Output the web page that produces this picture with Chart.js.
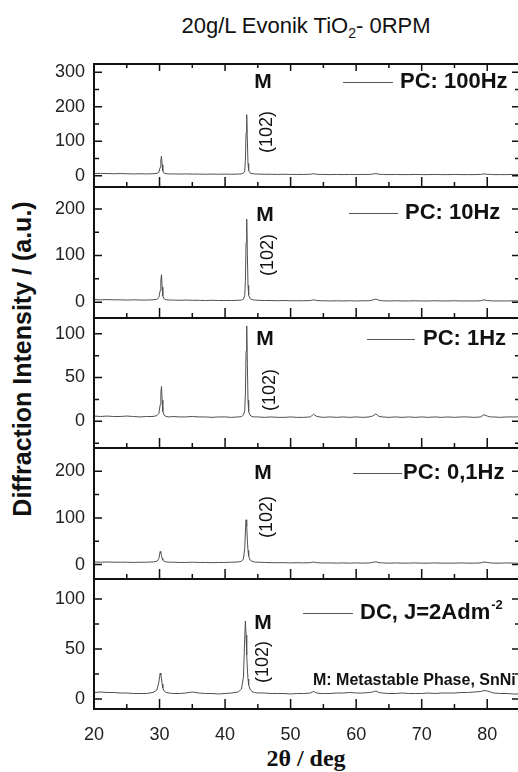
<!DOCTYPE html>
<html>
<head>
<meta charset="utf-8">
<script src="https://cdn.jsdelivr.net/npm/chart.js@4.4.1/dist/chart.umd.min.js"></script>
<style>
html,body{margin:0;padding:0;background:#fff;overflow:hidden;}
#wrap{position:relative;width:530px;height:772px;overflow:hidden;}
#wrap canvas{position:absolute;left:0;}
.txt{position:absolute;white-space:nowrap;color:#111;line-height:1;}
#title{left:306px;top:13px;transform:translateX(-50%);font:22px "Liberation Sans",Arial,sans-serif;}
#title sub{font-size:14px;vertical-align:-5px;line-height:0;}
#ytitle{left:22px;top:359px;transform:translate(-50%,-50%) rotate(-90deg);font:bold 25px "Liberation Sans",Arial,sans-serif;}
#xtitle{left:306px;top:758px;transform:translate(-50%,-50%);font:bold 24px "Liberation Serif","Times New Roman",serif;}
</style>
</head>
<body>
<div id="wrap">
  <div class="txt" id="title">20g/L Evonik TiO<sub>2</sub>- 0RPM</div>
  <div class="txt" id="ytitle">Diffraction Intensity / (a.u.)</div>
  <div class="txt" id="xtitle">2θ / deg</div>
</div>
<script>
// ---------- DATA ----------
const twoTheta = [
  20,21,22,23,24,25,26,27,28,29,
  29.6,29.9,30.1,30.2,30.3,30.4,30.5,30.7,31,31.5,
  32,33,34,35,36,37,38,39,40,41,
  42,42.5,42.8,43.0,43.1,43.2,43.3,43.4,43.5,43.6,43.8,44.1,44.5,
  45,46,47,48,49,50,51,52,53,
  53.5,54,54.5,
  55,56,57,58,59,60,61,62,
  62.5,63,63.5,
  64,65,66,67,68,69,70,71,72,73,74,75,76,77,78,79,
  79.5,80,80.5,
  81,82,83,84,85
];
const pc100Hz = [
  6,6.5,6,5.5,6,5.5,5,5.5,5,5.5,
  6.5,10,24,46,57,31,13,7.5,5.5,5,
  5,4.5,5,4.5,4.5,4,4.5,4,4.5,4,
  4.5,5,7,14,45,125,177,100,35,15,8,6,5,
  4.5,4,4,3.5,4,3.5,3.5,3.5,4,
  5.5,4,3.5,
  3.5,3,3.5,3,3.5,3,3.5,3.5,
  4.5,6,4,
  3.5,3,3.5,3,3,3.5,3,3,3.5,3,3,3.5,3,3,3,3.5,
  5,4,3.5,
  3,3,3,3.5,3
];
const pc10Hz = [
  5.5,5,5.5,5,5,4.5,5,4.5,4.5,5,
  6,10,25,48,59,32,13,7,5,4.5,
  4.5,4,4.5,4,4,3.5,4,3.5,3.5,3.5,
  4,4.5,6.5,14,46,128,178,102,36,15,8,5.5,4.5,
  4,3.5,3.5,3,3.5,3,3,3,3.5,
  5,3.5,3,
  3,2.5,3,2.5,3,2.5,3,3,
  4.5,6.5,4,
  3,2.5,3,2.5,2.5,3,2.5,2.5,3,2.5,2.5,3,2.5,2.5,2.5,3,
  5,3.5,3,
  2.5,2.5,2.5,3,2.5
];
const pc1Hz = [
  6,5.5,6,5.5,5.5,6,5.5,5,5.5,5.5,
  6.5,9,19,33,40,24,11,7,5.5,5,
  5.5,5,5,5.5,5,5,4.5,5,5,4.5,
  5,5.5,7,12,32,80,109,65,24,11,7,5.5,5,
  5,4.5,5,4.5,4.5,5,4.5,4.5,5,
  8,5.5,5,
  4.5,5,4.5,5,4.5,5,4.5,5,
  6,8.5,5.5,
  5,4.5,5,4.5,5,4.5,5,4.5,5,4.5,5,4.5,5,5,4.5,5,
  7.5,6,5,
  5,4.5,5,5,5
];
const pc01Hz = [
  5.5,5,5.5,5,5,5,4.5,5,5,5.5,
  7,13,28,25,19,13,9.5,7,5.5,5,
  5,4.5,4.5,5,4.5,4.5,4,4.5,4.5,5,
  5.5,7,12,35,70,96,82,52,30,18,10,7,5.5,
  5,4.5,4,4,4,3.5,4,3.5,4,
  5.5,4,3.5,
  3.5,3.5,3,3.5,3,3.5,3,3.5,
  4.5,6,4,
  3.5,3,3.5,3,3,3.5,3,3,3.5,3,3,3,3.5,3,3,3.5,
  5.5,4.5,3.5,
  3,3,3.5,3,3
];
const dc2A = [
  6.5,7,6.5,6.5,6,6,5.5,5.5,5.5,6.5,
  9,17,26,24,20,15,11,8,6.5,6,
  5.5,5.5,6,7,6,5.5,5.5,5,5.5,6,
  7,10,22,62,78,64,44,30,20,14,10,7.5,6.5,
  6,6,5.5,5.5,5.5,5,5.5,5.5,6,
  7.5,6,5.5,
  5.5,5.5,6,6,6.5,6,6,6.5,
  7,8,6.5,
  6,5.5,5.5,6,5.5,5.5,5.5,6,5.5,6,6,6,6.5,6.5,7,7.5,
  8.5,8,7,
  6,5.5,5.5,5,5
];
const xTickLabels = [20,30,40,50,60,70,80];
const yTicks100Hz = [0,100,200,300];
const yTicks10Hz = [0,100,200];
const yTicks1Hz = [0,50,100];
const yTicks01Hz = [0,100,200];
const yTicksDC = [0,50,100];
const seriesNames = ['PC: 100Hz','PC: 10Hz','PC: 1Hz','PC: 0,1Hz','DC, J=2Adm'];
const peakLabel = 'M';
const hklLabel = '(102)';
const noteText = 'M: Metastable Phase, SnNi';

// ---------- LAYOUT / STYLE ----------
const FONT = '"Liberation Sans", Arial, sans-serif';
const panels = [
  {values:pc100Hz, ticks:yTicks100Hz, label:seriesNames[0], top:64,  bottom:187, min:-33,   max:324, major:100, topTicks:true,
   m:[263,82],  hkl:[267,132], leg:[343,393,82],  legText:400},
  {values:pc10Hz,  ticks:yTicks10Hz,  label:seriesNames[1], top:187, bottom:318, min:-34,   max:247, major:100,
   m:[265,215], hkl:[268,255], leg:[349,398,213], legText:405},
  {values:pc1Hz,   ticks:yTicks1Hz,   label:seriesNames[2], top:318, bottom:448, min:-30.5, max:118, major:50,
   m:[265,339], hkl:[270,390], leg:[367,415,339], legText:423},
  {values:pc01Hz,  ticks:yTicks01Hz,  label:seriesNames[3], top:448, bottom:579, min:-31,   max:250, major:100,
   m:[263,473], hkl:[267,517], leg:[353,402,473], legText:403},
  {values:dc2A,    ticks:yTicksDC,    label:seriesNames[4], top:579, bottom:709, min:-10,   max:120, major:50,
   m:[263,623], hkl:[263,662], leg:[303,353,613], legText:360, sup:'-2', note:noteText, notePos:[313,681]}
];

function decoPlugin(p, canvasTop) {
  return {
    id: 'deco',
    afterDraw(chart) {
      const {ctx, chartArea: a, scales: {x, y}} = chart;
      const Y = v => v - canvasTop;
      ctx.save();
      ctx.strokeStyle = '#111';
      ctx.lineWidth = 1.5;
      ctx.beginPath();
      const minor = p.major / 2;
      for (let v = Math.ceil(p.min / minor) * minor; v <= p.max; v += minor) {
        const py = y.getPixelForValue(v);
        const len = (Math.abs(v % p.major) < 1e-9) ? 8 : 5;
        ctx.moveTo(a.left, py); ctx.lineTo(a.left + len, py);
        ctx.moveTo(a.right, py); ctx.lineTo(a.right - len, py);
      }
      for (let v = 25; v < 85; v += 5) {
        const px = x.getPixelForValue(v);
        const major = v % 10 === 0;
        ctx.moveTo(px, a.bottom); ctx.lineTo(px, a.bottom - (major ? 10 : 5));
        if (p.topTicks) { ctx.moveTo(px, a.top); ctx.lineTo(px, a.top + (major ? 7 : 4)); }
      }
      ctx.stroke();
      ctx.lineWidth = 2;
      ctx.strokeRect(a.left, a.top, a.right - a.left, a.bottom - a.top);

      ctx.fillStyle = '#111';
      ctx.textBaseline = 'middle';
      ctx.textAlign = 'center';
      ctx.font = 'bold 21px ' + FONT;
      ctx.fillText(peakLabel, p.m[0], Y(p.m[1]));
      ctx.save();
      ctx.translate(p.hkl[0], Y(p.hkl[1]));
      ctx.rotate(-Math.PI / 2);
      ctx.font = '18px ' + FONT;
      ctx.fillText(hklLabel, 0, 0);
      ctx.restore();

      ctx.strokeStyle = '#555';
      ctx.lineWidth = 1;
      ctx.beginPath();
      const ly = Math.round(Y(p.leg[2])) + 0.5;
      ctx.moveTo(p.leg[0], ly); ctx.lineTo(p.leg[1], ly);
      ctx.stroke();
      ctx.textAlign = 'left';
      ctx.font = 'bold 22px ' + FONT;
      ctx.fillText(p.label, p.legText, Y(p.leg[2]));
      if (p.sup) {
        const w = ctx.measureText(p.label).width;
        ctx.font = 'bold 13px ' + FONT;
        ctx.fillText(p.sup, p.legText + w + 1, Y(p.leg[2]) - 8);
      }
      if (p.note) {
        ctx.font = 'bold 16px ' + FONT;
        ctx.fillText(p.note, p.notePos[0], Y(p.notePos[1]));
      }
      ctx.restore();
    }
  };
}

const wrap = document.getElementById('wrap');
panels.forEach((p, i) => {
  const isBottom = i === panels.length - 1;
  const padTop = 12, padBottom = isBottom ? 0 : 12, xH = isBottom ? 44 : 0;
  const canvasTop = p.top - padTop;
  const canvas = document.createElement('canvas');
  const h = padTop + (p.bottom - p.top) + padBottom + xH;
  canvas.width = 530; canvas.height = h;
  canvas.style.width = '530px'; canvas.style.height = h + 'px';
  canvas.style.top = canvasTop + 'px';
  wrap.appendChild(canvas);
  new Chart(canvas, {
    type: 'line',
    data: {
      datasets: [{
        label: p.label,
        data: twoTheta.map((t, k) => ({x: t, y: p.values[k]})),
        borderColor: '#505050',
        borderWidth: 1,
        pointRadius: 0,
        tension: 0,
        fill: false
      }]
    },
    options: {
      responsive: false,
      animation: false,
      devicePixelRatio: 1,
      events: [],
      layout: {padding: {left: 0, right: 10, top: padTop, bottom: padBottom}},
      plugins: {legend: {display: false}, tooltip: {enabled: false}, title: {display: false}},
      scales: {
        x: {
          type: 'linear', min: 20, max: 85, bounds: 'data', display: isBottom,
          grid: {display: false, drawTicks: false}, border: {display: false},
          afterBuildTicks: s => { s.ticks = xTickLabels.map(v => ({value: v})); },
          afterFit: s => { s.height = xH; s.paddingLeft = 0; s.paddingRight = 0; },
          ticks: {padding: 15, color: '#222', font: {family: FONT, size: 18}, maxRotation: 0, autoSkip: false}
        },
        y: {
          type: 'linear', min: p.min, max: p.max, bounds: 'data',
          grid: {display: false, drawTicks: false}, border: {display: false},
          afterBuildTicks: s => { s.ticks = p.ticks.map(v => ({value: v})); },
          afterFit: s => { s.width = 94; s.paddingTop = 0; s.paddingBottom = 0; },
          ticks: {padding: 9, color: '#222', font: {family: FONT, size: 18}}
        }
      }
    },
    plugins: [decoPlugin(p, canvasTop)]
  });
});
</script>
</body>
</html>
